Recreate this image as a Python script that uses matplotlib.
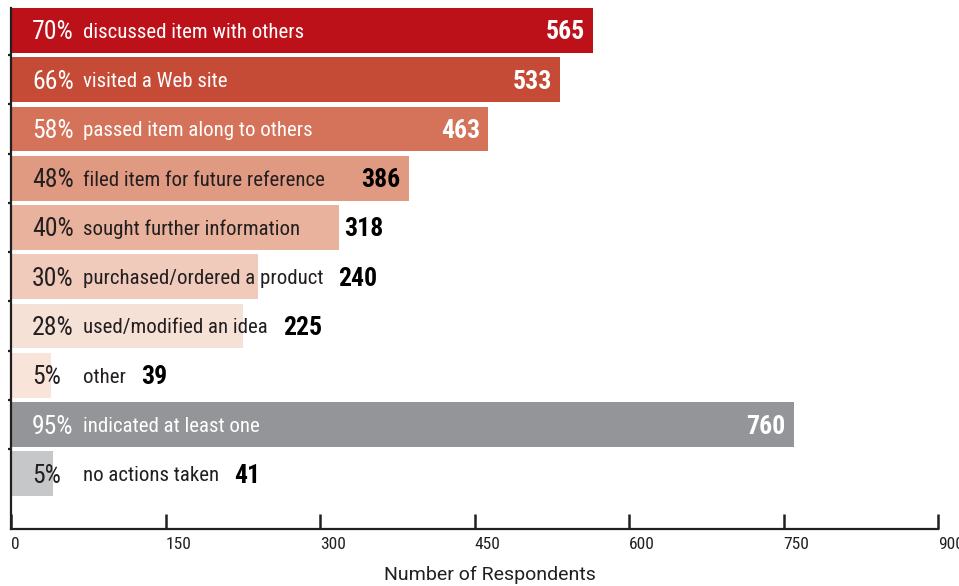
import numpy as np
import matplotlib.pyplot as plt

# Actions taken by respondents after reading
percents = ["70%", "66%", "58%", "48%", "40%", "30%", "28%", "5%", "95%", "5%"]
actions = ["discussed item with others", "visited a Web site", "passed item along to others",
           "filed item for future reference", "sought further information",
           "purchased/ordered a product", "used/modified an idea", "other",
           "indicated at least one", "no actions taken"]
counts = [565, 533, 463, 386, 318, 240, 225, 39, 760, 41]
bar_colors = ["#BD111A", "#C54B37", "#D4725A", "#E09A82", "#E8B29C",
              "#F0CBBB", "#F6E1D6", "#F9E4DA", "#939598", "#C6C7C8"]
text_colors = ["white", "white", "white", "#231F20", "#231F20",
               "#231F20", "#231F20", "#231F20", "white", "#231F20"]
inside = [True, True, True, True, False, False, False, False, True, False]
value_colors = ["white", "white", "white", "black", "black",
                "black", "black", "black", "white", "black"]
xticks = [0, 150, 300, 450, 600, 750, 900]

narrow = ["Roboto Condensed", "DejaVu Sans"]

fig = plt.figure(figsize=(9.59, 5.86), dpi=100)
W, H = 959, 586
ax = fig.add_axes([11 / W, 1 - 529 / H, (938 - 11) / W, (529 - 8) / H])

y = np.arange(len(counts))
ax.barh(y, counts, height=0.91, color=bar_colors, align="center")
ax.set_xlim(0, 900)
ax.set_ylim(10.12, -0.455)

for s in ["top", "right"]:
    ax.spines[s].set_visible(False)
for s in ["left", "bottom"]:
    ax.spines[s].set_linewidth(1.6)
    ax.spines[s].set_color("#231F20")
ax.set_yticks([])
ax.set_yticks(y[:-1] + 0.5, minor=True)
ax.tick_params(axis="y", which="minor", direction="out", length=2, width=1.6, color="#231F20")
ax.set_xticks(xticks)
ax.set_xticklabels([str(t) for t in xticks], family=narrow, fontsize=12.5, color="#231F20")
for lab in ax.get_xticklabels():
    lab.set_horizontalalignment("left")
ax.tick_params(axis="x", direction="in", length=11, width=1.8, color="#231F20", pad=6)

fig.text(490 / W, 1 - 575 / H, "Number of Respondents", ha="center", va="center",
         fontsize=14, color="#231F20", family=["Roboto", "DejaVu Sans"])

fig.canvas.draw()
renderer = fig.canvas.get_renderer()
to_data = ax.transData
px = to_data.transform([(0, 0), (1, 0)])
px_per_unit = px[1][0] - px[0][0]

for i, (p, a, c) in enumerate(zip(percents, actions, counts)):
    ax.text(21 / px_per_unit, i + 0.04, p, ha="left", va="center", fontsize=18.5,
            family=narrow, color=text_colors[i])
    t = ax.text(72 / px_per_unit, i + 0.04, a, ha="left", va="center", fontsize=15,
                family=narrow, color=text_colors[i])
    if inside[i]:
        ax.text(c - 8 / px_per_unit, i + 0.04, str(c), ha="right", va="center",
                fontsize=18.5, fontweight="bold", family=narrow, color=value_colors[i])
    else:
        bb = t.get_window_extent(renderer)
        text_end = to_data.inverted().transform((bb.x1, 0))[0]
        vx = max(c + 6 / px_per_unit, text_end + 15 / px_per_unit)
        ax.text(vx, i + 0.04, str(c), ha="left", va="center",
                fontsize=18.5, fontweight="bold", family=narrow, color=value_colors[i])

fig.savefig("out.png", dpi=100)
